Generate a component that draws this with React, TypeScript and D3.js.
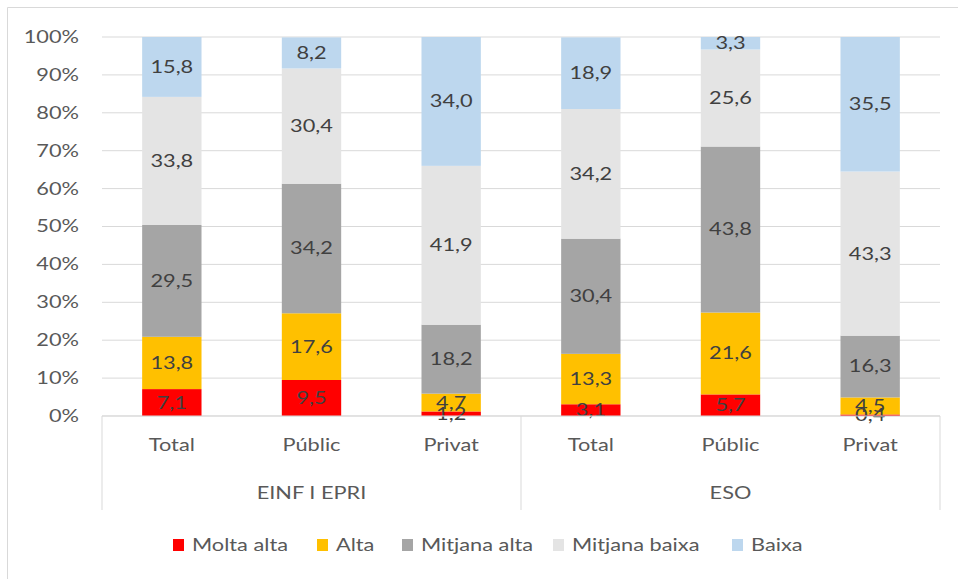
import React from 'react';
import * as d3 from 'd3';

const groups = ['EINF I EPRI', 'ESO'];
const categories = ['Total', 'Públic', 'Privat', 'Total', 'Públic', 'Privat'];
const seriesNames = ['Molta alta', 'Alta', 'Mitjana alta', 'Mitjana baixa', 'Baixa'];
const moltaAlta = [7.1, 9.5, 1.2, 3.1, 5.7, 0.4];
const alta = [13.8, 17.6, 4.7, 13.3, 21.6, 4.5];
const mitjanaAlta = [29.5, 34.2, 18.2, 30.4, 43.8, 16.3];
const mitjanaBaixa = [33.8, 30.4, 41.9, 34.2, 25.6, 43.3];
const baixa = [15.8, 8.2, 34.0, 18.9, 3.3, 35.5];
const yTicks = [0, 10, 20, 30, 40, 50, 60, 70, 80, 90, 100];

const colors = ['#FF0000', '#FFC000', '#A5A5A5', '#E4E4E4', '#BDD7EE'];
const W = 958;
const H = 579;
const margin = { top: 37, left: 102, right: 18, bottom: 163 };
const FONT = 'Lato, Carlito, "Liberation Sans", sans-serif';
const SX = 1.28; // the reference text is drawn wide

// text stretched horizontally around its anchor point
const Txt = ({ x, y, anchor = 'middle', fill = '#595959', size = 17, children }: any) => (
  <text transform={`translate(${x},${y}) scale(${SX},1)`} dy="0.35em" textAnchor={anchor}
    fontSize={size} fill={fill}>{children}</text>
);

export default function App() {
  const seriesValues = [moltaAlta, alta, mitjanaAlta, mitjanaBaixa, baixa];
  const rows = categories.map((c, i) => {
    const r: Record<string, number> = { idx: i };
    seriesNames.forEach((s, k) => (r[s] = seriesValues[k][i]));
    return r;
  });
  const stacked = d3.stack<Record<string, number>>().keys(seriesNames)(rows);

  const plotBottom = H - margin.bottom;
  const x = d3.scaleBand<number>()
    .domain(d3.range(categories.length))
    .range([margin.left, W - margin.right])
    .paddingInner(0.575)
    .paddingOuter(0.2875);
  const y = d3.scaleLinear().domain([0, 100]).range([plotBottom, margin.top]);
  const step = x.step();
  const xLeft = margin.left;
  const xRight = W - margin.right;
  const groupEdges = [xLeft, xLeft + step * 3, xRight];

  const legendX = [173, 317, 402, 553, 732];

  return (
    <div style={{ position: 'fixed', left: 0, top: 0 }}>
      <svg width={W} height={H} style={{ display: 'block', fontFamily: FONT }}>
        <rect x={0} y={0} width={W} height={H} fill="#fff" />
        <line x1={7.5} x2={W} y1={7.5} y2={7.5} stroke="#D9D9D9" />
        <line x1={7.5} x2={7.5} y1={7.5} y2={H} stroke="#D9D9D9" />
        {yTicks.map(t => (
          <g key={t}>
            <line x1={xLeft} x2={xRight} y1={y(t)} y2={y(t)} stroke="#D9D9D9" strokeWidth={1} />
            <Txt x={79} y={y(t)} anchor="end">{t}%</Txt>
          </g>
        ))}
        {stacked.map((s, k) => (
          <g key={s.key}>
            {s.map((d, i) => (
              <rect key={i} x={x(i)} y={y(d[1])} width={x.bandwidth()} height={y(d[0]) - y(d[1])} fill={colors[k]} />
            ))}
          </g>
        ))}
        {stacked.map((s, k) => (
          <g key={s.key + 'l'}>
            {s.map((d, i) => (
              <Txt key={i} x={(x(i) || 0) + x.bandwidth() / 2} y={y((d[0] + d[1]) / 2)} fill="#404040">
                {seriesValues[k][i].toFixed(1).replace('.', ',')}
              </Txt>
            ))}
          </g>
        ))}
        <line x1={xLeft} x2={xRight} y1={plotBottom} y2={plotBottom} stroke="#D9D9D9" />
        {groupEdges.map((gx, i) => (
          <line key={i} x1={gx} x2={gx} y1={plotBottom} y2={510} stroke="#D9D9D9" />
        ))}
        {categories.map((c, i) => (
          <Txt key={i} x={(x(i) || 0) + x.bandwidth() / 2} y={445}>{c}</Txt>
        ))}
        {groups.map((g, i) => (
          <Txt key={g} x={xLeft + step * 3 * i + step * 1.5} y={493}>{g}</Txt>
        ))}
        {seriesNames.map((s, k) => (
          <g key={s} transform={`translate(${legendX[k]},545)`}>
            <rect x={0} y={-6} width={11} height={12} fill={colors[k]} />
            <Txt x={19} y={0} anchor="start">{s}</Txt>
          </g>
        ))}
      </svg>
    </div>
  );
}
